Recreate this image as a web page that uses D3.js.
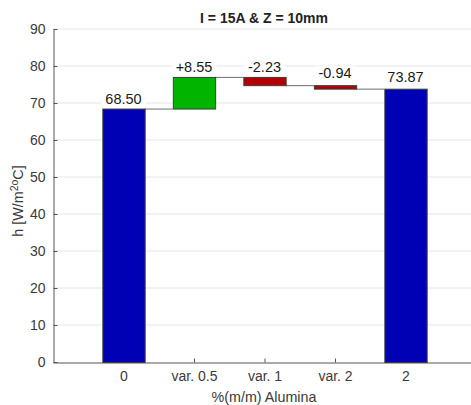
<!DOCTYPE html>
<html>
<head>
<meta charset="utf-8">
<script src="https://cdn.jsdelivr.net/npm/d3@7"></script>
<style>
  html, body { margin: 0; padding: 0; background: #fff; }
  svg { display: block; font-family: "Liberation Sans", Arial, Helvetica, sans-serif; }
</style>
</head>
<body>
<svg id="chart" width="471" height="405"></svg>
<script>
// Waterfall data: start value, successive changes, final value
const categories = ["0", "var. 0.5", "var. 1", "var. 2", "2"];
const kinds = ["total", "delta", "delta", "delta", "total"];
const values = [68.50, 8.55, -2.23, -0.94, 73.87];
const valueLabels = ["68.50", "+8.55", "-2.23", "-0.94", "73.87"];
const yTicks = [0, 10, 20, 30, 40, 50, 60, 70, 80, 90];

const svg = d3.select("#chart");

// categories sit at positions 1..5 on a 0..6 axis
const x = d3.scaleLinear().domain([0, 6]).range([53, 476]);
const y = d3.scaleLinear().domain([0, 90]).range([362, 29]);
const barW = x(0.6) - x(0);

// compute bar extents
let running = 0;
const bars = categories.map((c, i) => {
  let lo, hi, end;
  if (kinds[i] === "total") {
    lo = 0; hi = values[i]; end = values[i];
  } else {
    const start = running;
    end = start + values[i];
    lo = Math.min(start, end); hi = Math.max(start, end);
  }
  running = end;
  const color = kinds[i] === "total" ? "#0000b4" : (values[i] >= 0 ? "#00b400" : "#b40000");
  return { cat: c, kind: kinds[i], pos: i + 1, lo, hi, end, top: hi, color, label: valueLabels[i] };
});

// grid lines
svg.append("g")
  .selectAll("line")
  .data(yTicks.filter(d => d > 0))
  .join("line")
  .attr("x1", x(0)).attr("x2", 471)
  .attr("y1", d => y(d)).attr("y2", d => y(d))
  .attr("stroke", "#e6e6e6").attr("stroke-width", 1);

// connectors between consecutive bars
const conn = svg.append("g");
for (let i = 0; i < bars.length - 1; i++) {
  const level = bars[i].end;
  conn.append("line")
    .attr("x1", x(bars[i].pos) + barW / 2)
    .attr("x2", x(bars[i + 1].pos) - barW / 2)
    .attr("y1", y(level) + 0.5).attr("y2", y(level) + 0.5)
    .attr("stroke", "#6e6e6e").attr("stroke-width", 1);
}

// x axis (drawn first so the end bars cover their ticks)
const xAxis = svg.append("g").attr("transform", `translate(0,${y(0) + 0.5})`)
  .call(d3.axisBottom(x).tickValues(bars.map(b => b.pos)).tickFormat((d, i) => categories[i])
    .tickSizeInner(-4).tickSizeOuter(0).tickPadding(9));
xAxis.select(".domain").attr("stroke", "#555");
xAxis.selectAll(".tick line").attr("stroke", "#555");
xAxis.selectAll(".tick text").attr("font-size", 14).attr("fill", "#3a3a3a")
  .attr("font-family", "Liberation Sans, Arial, sans-serif");

// bars
svg.append("g")
  .selectAll("rect")
  .data(bars)
  .join("rect")
  .attr("x", d => x(d.pos) - barW / 2 + 0.5)
  .attr("y", d => y(d.hi) + 0.5)
  .attr("width", barW)
  .attr("height", d => y(d.lo) - y(d.hi))
  .attr("fill", d => d.color)
  .attr("stroke", "#3c3c3c").attr("stroke-width", 1);

// value labels with white backing
const lab = svg.append("g");
bars.forEach(d => {
  const small = d.kind === "delta" && d.hi - d.lo < 2;
  const offset = (small || d.cat === "2") ? 7 : 5;
  const t = lab.append("text")
    .attr("x", x(d.pos))
    .attr("y", y(d.top) - offset)
    .attr("text-anchor", "middle")
    .attr("font-size", 14.5)
    .attr("fill", "#1a1a1a")
    .text(d.label);
  const bb = t.node().getBBox();
  lab.insert("rect", () => t.node())
    .attr("x", bb.x - 4).attr("y", bb.y + 1)
    .attr("width", bb.width + 8).attr("height", bb.height - 1)
    .attr("fill", "#fff");
});

// y axis
const yAxis = svg.append("g").attr("transform", `translate(${x(0) + 0.5},0)`)
  .call(d3.axisLeft(y).tickValues(yTicks).tickSizeInner(-4).tickSizeOuter(0).tickPadding(8));
yAxis.select(".domain").attr("stroke", "#555");
yAxis.selectAll(".tick line").attr("stroke", "#555");
yAxis.selectAll(".tick text").attr("font-size", 14).attr("fill", "#3a3a3a")
  .attr("font-family", "Liberation Sans, Arial, sans-serif");

// title
svg.append("text")
  .attr("x", 264).attr("y", 23)
  .attr("text-anchor", "middle")
  .attr("font-size", 14).attr("font-weight", "bold").attr("fill", "#222")
  .text("I = 15A & Z = 10mm");

// x label
svg.append("text")
  .attr("x", 264).attr("y", 402)
  .attr("text-anchor", "middle")
  .attr("font-size", 14.3).attr("fill", "#3a3a3a")
  .text("%(m/m) Alumina");

// y label with superscripts
const yl = svg.append("text")
  .attr("transform", "translate(23,201) rotate(-90)")
  .attr("text-anchor", "middle")
  .attr("font-size", 14.3).attr("fill", "#3a3a3a");
yl.append("tspan").text("h [W/m");
yl.append("tspan").attr("font-size", 10.5).attr("dy", -5).text("2");
yl.append("tspan").attr("font-size", 10.5).text("o");
yl.append("tspan").attr("dy", 5).text("C]");
</script>
</body>
</html>
